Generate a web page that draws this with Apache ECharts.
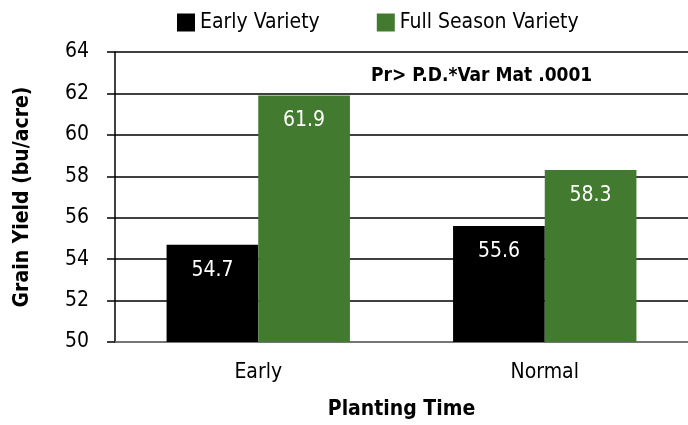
<!DOCTYPE html>
<html>
<head>
<meta charset="utf-8">
<script src="https://cdn.jsdelivr.net/npm/echarts@6/dist/echarts.min.js"></script>
<style>
  html, body { margin: 0; padding: 0; background: #fff; }
  #chart { width: 688px; height: 425px; }
</style>
</head>
<body>
<div id="chart"></div>
<script>
const categories = ['Early', 'Normal']
const earlyVariety = [54.7, 55.6]
const fullSeason = [61.9, 58.3]
const yTicks = { min: 50, max: 64, interval: 2 }

const font = "'Liberation Sans Narrow', 'DejaVu Sans Condensed', 'Liberation Sans', sans-serif"

let chart = echarts.init(document.getElementById('chart'))

let label = {
  show: true,
  position: 'insideTop',
  distance: 15,
  color: '#fff',
  fontFamily: font,
  fontSize: 21,
  formatter: function (p) { return p.value.toFixed(1) }
}

let option = {
  animation: false,
  backgroundColor: '#fff',
  textStyle: { fontFamily: font },
  title: {
    text: 'Pr> P.D.*Var Mat .0001',
    left: 366,
    top: 62,
    textStyle: { fontFamily: font, fontSize: 19, fontWeight: 'bold', color: '#000' }
  },
  legend: {
    top: 12,
    left: 177,
    padding: 0,
    itemWidth: 18,
    itemHeight: 18,
    itemGap: 57,
    icon: 'rect',
    textStyle: { fontFamily: font, fontSize: 21, color: '#000' },
    data: ['Early Variety', 'Full Season Variety']
  },
  grid: {
    left: 115,
    right: -5,
    top: 52,
    bottom: 82
  },
  xAxis: {
    type: 'category',
    data: categories,
    name: 'Planting Time',
    nameLocation: 'middle',
    nameGap: 57,
    nameTextStyle: { fontFamily: font, fontSize: 21, fontWeight: 'bold', color: '#000' },
    axisLine: { lineStyle: { color: '#888', width: 1.5 } },
    axisTick: { show: false },
    axisLabel: { fontFamily: font, fontSize: 21, color: '#000', margin: 20 }
  },
  yAxis: {
    type: 'value',
    min: yTicks.min,
    max: yTicks.max,
    interval: yTicks.interval,
    name: 'Grain Yield (bu/acre)',
    nameLocation: 'middle',
    nameGap: 82,
    nameTextStyle: { fontFamily: font, fontSize: 21, fontWeight: 'bold', color: '#000' },
    axisLine: { show: true, lineStyle: { color: '#000', width: 1.5 } },
    axisTick: { show: true, length: 8, lineStyle: { color: '#000', width: 1.5 } },
    axisLabel: { fontFamily: font, fontSize: 21, color: '#000', margin: 26 },
    splitLine: { lineStyle: { color: '#000', width: 1.5 } }
  },
  series: [
    {
      name: 'Early Variety',
      type: 'bar',
      data: earlyVariety,
      barGap: '0%',
      barCategoryGap: '36%',
      itemStyle: { color: '#000' },
      label: label
    },
    {
      name: 'Full Season Variety',
      type: 'bar',
      data: fullSeason,
      barGap: '0%',
      barCategoryGap: '36%',
      itemStyle: { color: '#427A30' },
      label: label
    }
  ]
}

chart.setOption(option)
</script>
</body>
</html>
